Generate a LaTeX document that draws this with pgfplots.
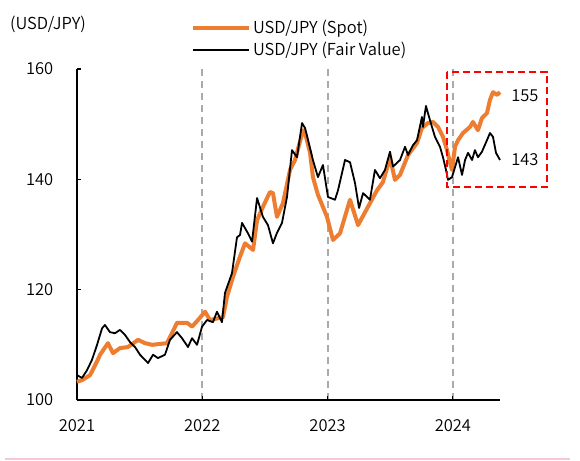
\documentclass[border=0pt]{standalone}
\usepackage{fontspec}
\setmainfont{Noto Sans CJK KR}[UprightFont=* DemiLight]
\usepackage{pgfplots}
\pgfplotsset{compat=1.18}
\usepackage{pgfplotstable}

\definecolor{spot}{HTML}{ED7D31}
\definecolor{gridgray}{HTML}{AAAAAA}
\definecolor{boxred}{HTML}{FF0000}
\definecolor{rulepink}{HTML}{F8C6DA}

% USD/JPY spot (year, level)
\pgfplotstableread{
x y
2021.000 103.3
2021.040 103.6
2021.104 104.5
2021.160 107.0
2021.184 108.2
2021.247 110.3
2021.287 108.5
2021.343 109.4
2021.407 109.6
2021.487 110.9
2021.543 110.3
2021.599 110.0
2021.718 110.3
2021.758 112.1
2021.798 114.0
2021.878 114.0
2021.918 113.3
2021.966 114.5
2022.022 116.0
2022.061 114.5
2022.165 115.0
2022.197 118.7
2022.245 122.3
2022.301 126.0
2022.341 128.4
2022.405 127.2
2022.437 132.6
2022.484 135.0
2022.540 137.7
2022.564 137.5
2022.596 133.2
2022.644 135.7
2022.700 141.7
2022.740 143.5
2022.804 148.9
2022.820 148.4
2022.860 144.8
2022.883 140.4
2022.923 137.2
2022.995 133.2
2023.043 129.0
2023.099 130.2
2023.179 136.3
2023.243 131.7
2023.322 135.0
2023.394 138.0
2023.442 139.5
2023.498 143.9
2023.538 139.9
2023.578 140.8
2023.642 144.4
2023.714 146.6
2023.753 149.3
2023.801 150.2
2023.841 150.4
2023.881 149.5
2023.921 147.7
2023.953 145.3
2023.977 143.0
2023.993 141.7
2024.017 145.9
2024.041 147.1
2024.081 148.4
2024.137 149.5
2024.160 150.4
2024.200 148.9
2024.232 151.1
2024.272 152.0
2024.296 154.4
2024.320 155.8
2024.352 155.3
2024.376 155.8
}\spot

% USD/JPY fair value
\pgfplotstableread{
x y
2021.000 104.5
2021.040 104.0
2021.080 105.4
2021.120 107.3
2021.160 110.0
2021.200 113.0
2021.223 113.6
2021.263 112.3
2021.303 112.1
2021.343 112.7
2021.383 111.8
2021.423 110.5
2021.463 109.6
2021.503 108.2
2021.567 106.7
2021.607 108.2
2021.646 107.6
2021.702 108.2
2021.742 110.9
2021.798 112.3
2021.838 111.2
2021.886 109.6
2021.918 111.2
2021.958 110.0
2021.998 113.3
2022.038 114.5
2022.085 114.1
2022.117 116.0
2022.157 114.1
2022.181 119.4
2022.237 123.0
2022.277 129.5
2022.301 129.9
2022.317 132.1
2022.365 130.2
2022.397 128.7
2022.437 136.6
2022.484 133.2
2022.524 131.7
2022.564 128.4
2022.596 130.3
2022.636 132.1
2022.676 136.8
2022.716 145.3
2022.756 144.0
2022.796 150.2
2022.820 149.3
2022.844 147.1
2022.883 143.5
2022.923 140.4
2022.963 142.6
2023.003 136.8
2023.059 136.3
2023.083 138.0
2023.139 143.5
2023.179 143.1
2023.219 139.3
2023.251 134.8
2023.283 137.5
2023.338 136.3
2023.378 141.7
2023.418 140.2
2023.458 141.7
2023.498 145.0
2023.522 142.3
2023.578 143.5
2023.618 145.9
2023.642 144.4
2023.682 146.2
2023.714 147.1
2023.753 151.3
2023.761 149.5
2023.785 153.3
2023.801 152.0
2023.833 149.5
2023.857 147.7
2023.897 145.9
2023.921 144.0
2023.945 141.7
2023.961 139.9
2023.993 140.4
2024.017 142.2
2024.041 144.0
2024.073 140.8
2024.097 143.5
2024.121 144.8
2024.153 143.5
2024.176 145.3
2024.200 144.0
2024.232 145.0
2024.272 147.1
2024.296 148.4
2024.320 147.7
2024.344 144.8
2024.376 143.5
}\fair

\begin{document}
\begin{tikzpicture}
\fontsize{16.5bp}{19bp}\selectfont
\begin{axis}[
    name=ax,
    scale only axis,
    width=423bp, height=331bp,
    xmin=2021, xmax=2024.376,
    ymin=100, ymax=160,
    axis x line*=bottom,
    axis y line*=left,
    axis line style={line width=1.5bp},
    xtick={2021,2022,2023,2024},
    xticklabels={2021,2022,2023,2024},
    ytick={100,120,140,160},
    yticklabels={100,120,140,160},
    tick style={black, line width=1.2bp},
    major tick length=4bp,
    tick align=inside,
    xticklabel style={yshift=-14bp},
    yticklabel style={xshift=-18bp},
    xmajorgrids,
    major x grid style={gridgray, line width=2bp,
        dash pattern=on 7bp off 5bp},
    ymajorgrids=false,
    clip=false,
    tick label style={font=\fontsize{16.5bp}{19bp}\selectfont},
    legend style={at={(0.262,1.161)}, anchor=north west, draw=none, fill=none,
        font=\fontsize{16.5bp}{19bp}\selectfont, row sep=2bp,
        nodes={inner sep=2bp}},
    legend cell align=left,
    legend image code/.code={\draw[#1] (0bp,0bp) -- (56bp,0bp);},
]
\addplot[spot, line width=4bp, line join=round] table[x=x, y=y] {\spot};
\addlegendentry{USD/JPY (Spot)}
\addplot[black, line width=1.8bp, line join=round] table[x=x, y=y] {\fair};
\addlegendentry{USD/JPY (Fair Value)}

\draw[boxred, line width=1.6bp, dash pattern=on 7bp off 4bp]
    (axis cs:2023.953,159.45) rectangle (axis cs:2024.751,138.6);
\node[anchor=center] at (axis cs:2024.575,155.1) {155};
\node[anchor=center] at (axis cs:2024.575,143.5) {143};
\end{axis}
\node[anchor=center] at ([shift={(-29bp,45bp)}]ax.north west) {(USD/JPY)};
\draw[rulepink, line width=1.2bp] ([shift={(-72bp,-59bp)}]ax.south west) -- ([shift={(70bp,-59bp)}]ax.south east);
\path ([shift={(-77bp,-61bp)}]ax.south west) rectangle ([shift={(80bp,69bp)}]ax.north east);
\end{tikzpicture}
\end{document}
